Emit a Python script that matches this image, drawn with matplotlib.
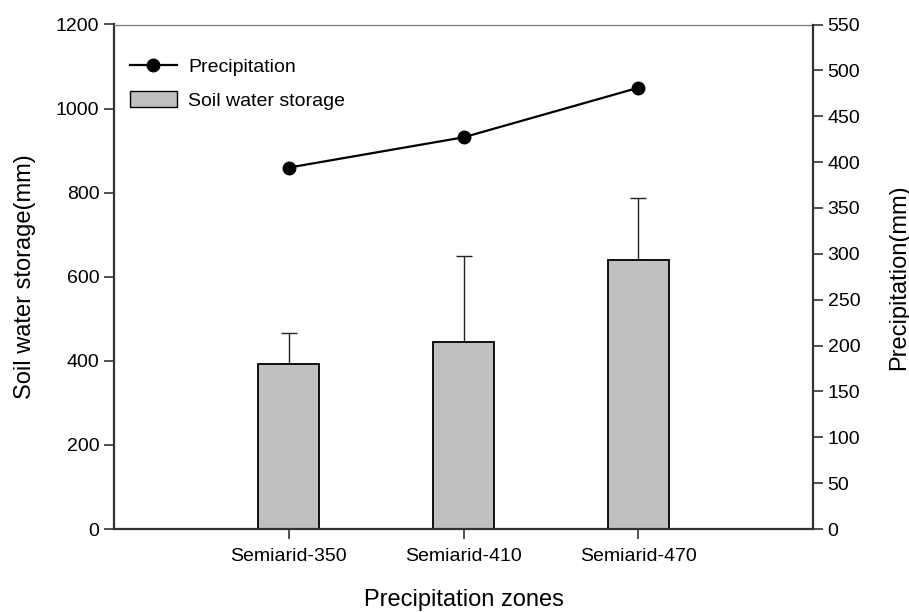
import matplotlib
matplotlib.use("Agg")
import matplotlib.pyplot as plt
from matplotlib.patches import Patch
from matplotlib.lines import Line2D

plt.rcParams['font.family'] = ['Liberation Sans', 'DejaVu Sans']

categories = ["Semiarid-350", "Semiarid-410", "Semiarid-470"]
soil_water = [393, 444, 640]
soil_err = [73, 206, 147]
precipitation = [394, 427, 481]

fig = plt.figure(figsize=(9.09, 6.12), dpi=100)
ax = fig.add_axes([114/909, 1-529/612, (813-114)/909, (529-24.5)/612])
x = [1, 2, 3]
ax.bar(x, soil_water, width=0.35, color='#c0c0c0', edgecolor='black', linewidth=1.3, zorder=2)
ax.errorbar(x, soil_water, yerr=[[0]*3, soil_err], fmt='none', ecolor='#222222',
            elinewidth=1.0, capsize=5.5, capthick=1.0, zorder=1)
ax.set_xlim(0, 4)
ax.set_ylim(0, 1200)
ax.set_yticks(range(0, 1201, 200))
ax.set_xticks(x)
ax.set_xticklabels(categories, fontsize=14)
ax.tick_params(axis='y', labelsize=14, direction='out', length=7, width=1.2, colors='#333333', labelcolor='black')
ax.tick_params(axis='x', direction='out', length=7, width=1.2, colors='#333333', labelcolor='black', pad=7)
ax.set_ylabel("Soil water storage(mm)", fontsize=17, labelpad=14)
ax.set_xlabel("Precipitation zones", fontsize=17, labelpad=17)
for s in ['left', 'bottom']:
    ax.spines[s].set_linewidth(1.6)
    ax.spines[s].set_color('#333333')
ax.spines['top'].set_linewidth(0.9)
ax.spines['top'].set_color('#777777')
ax.spines['right'].set_visible(False)

ax2 = ax.twinx()
ax2.plot(x, precipitation, color='black', lw=1.6, marker='o', markersize=9)
ax2.set_ylim(0, 550)
ax2.set_yticks(range(0, 551, 50))
ax2.tick_params(axis='y', labelsize=14, direction='out', length=7, width=1.2, colors='#333333', labelcolor='black')
ax2.set_ylabel("Precipitation(mm)", fontsize=17, labelpad=20)
for s in ['left', 'bottom', 'top']:
    ax2.spines[s].set_visible(False)
ax2.spines['right'].set_linewidth(1.6)
ax2.spines['right'].set_color('#333333')

handles = [Line2D([0], [0], color='black', lw=1.6, marker='o', markersize=9),
           Patch(facecolor='#c0c0c0', edgecolor='black', linewidth=1.0)]
ax.legend(handles, ["Precipitation", "Soil water storage"], loc='upper left',
          bbox_to_anchor=(0.012, 0.95), frameon=False, fontsize=14, handlelength=2.4,
          handleheight=0.9, labelspacing=0.75, handletextpad=0.6, borderaxespad=0)

fig.savefig("out.png", dpi=100)
